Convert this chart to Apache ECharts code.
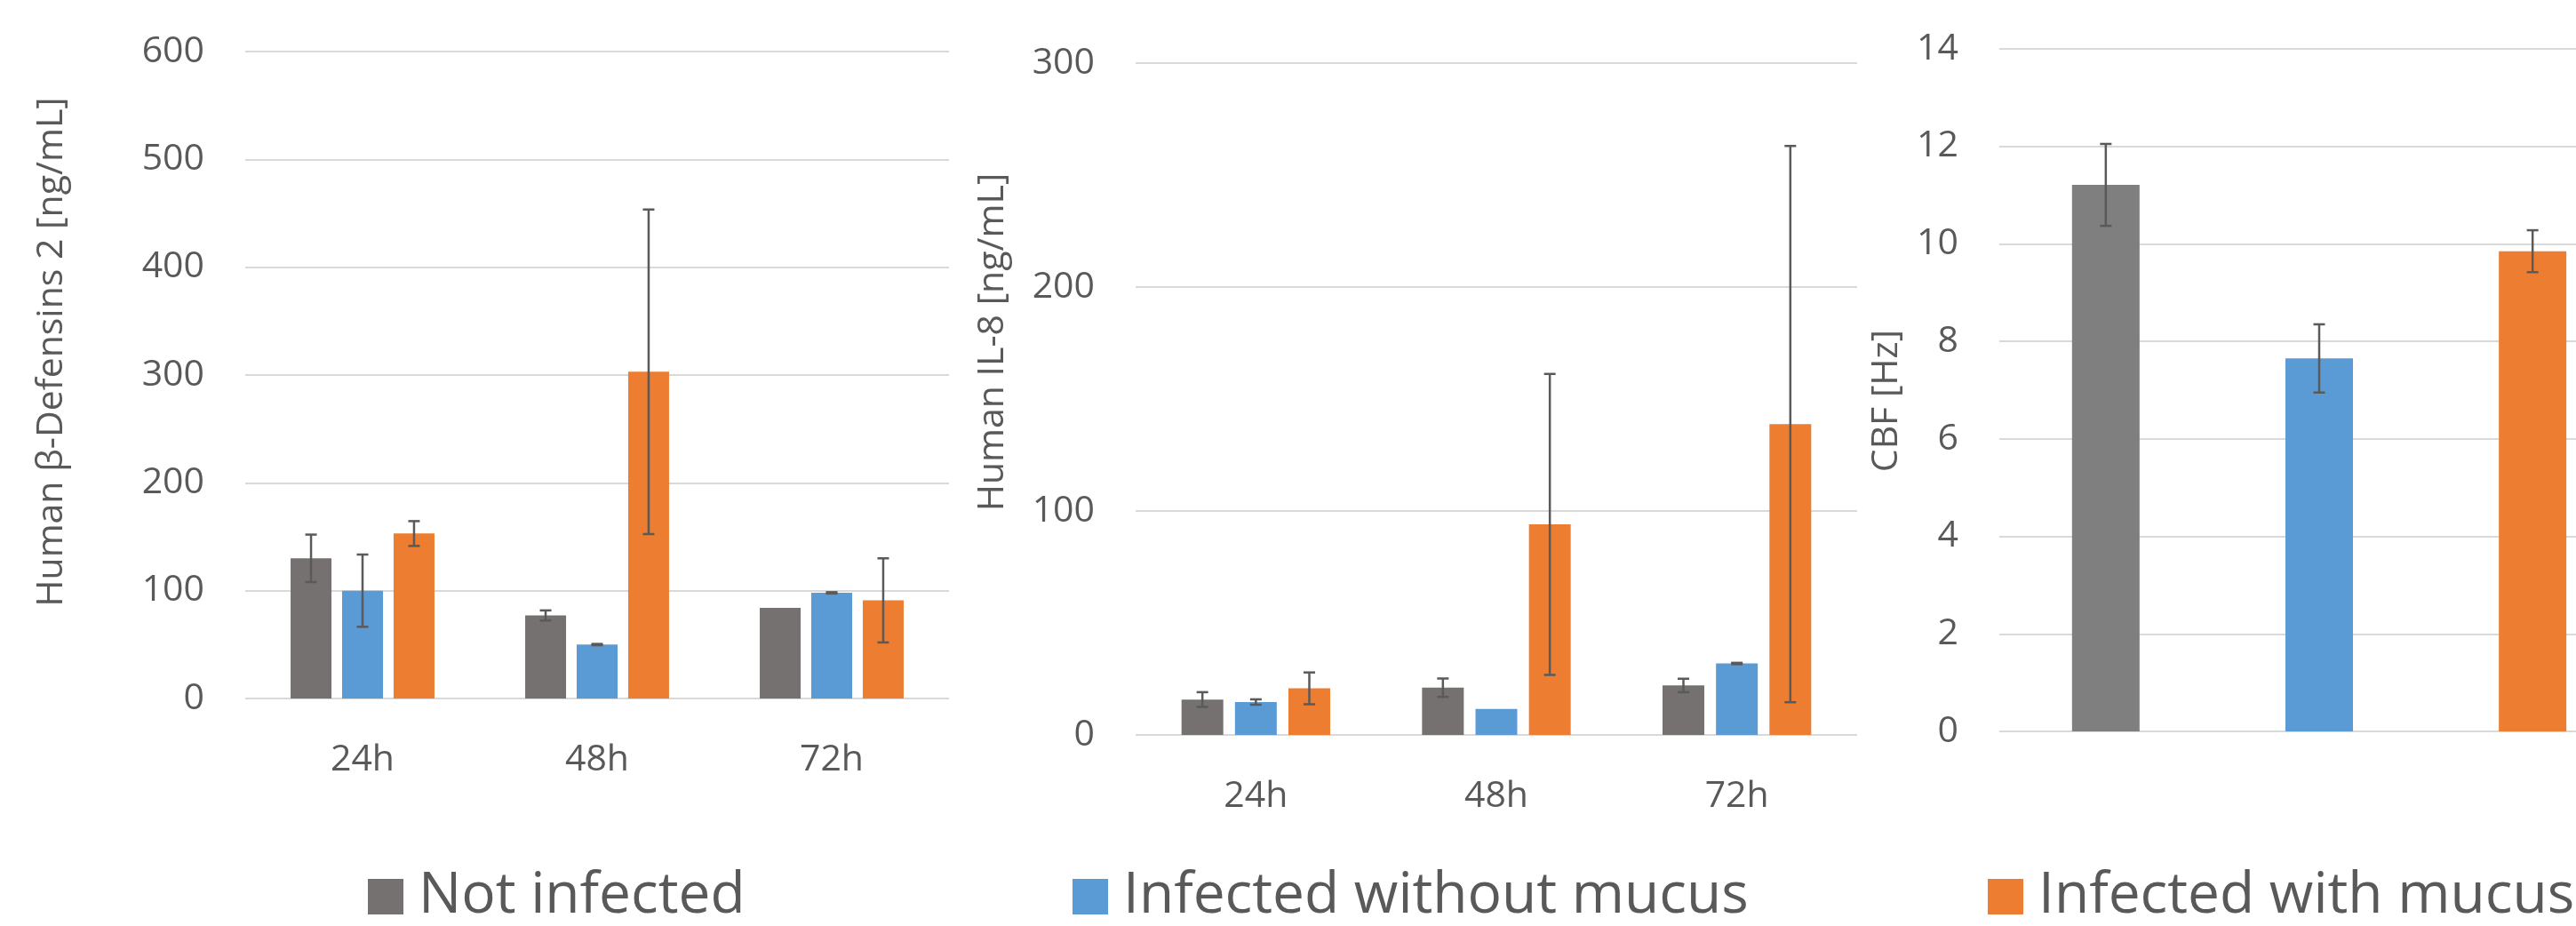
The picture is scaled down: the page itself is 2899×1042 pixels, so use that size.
<!DOCTYPE html>
<html>
<head>
<meta charset="utf-8">
<title>hBD-2, IL-8 and CBF</title>
<script src="https://cdn.jsdelivr.net/npm/echarts@6/dist/echarts.min.js"></script>
<style>
  html, body { margin: 0; padding: 0; background: #ffffff; }
  #chart { width: 2899px; height: 1042px; }
</style>
</head>
<body>
<div id="chart"></div>
<script>
// ---- data ----
const timePoints = ['24h', '48h', '72h'];
const groupNames = ['Not infected', 'Infected without mucus', 'Infected with mucus'];

// Human β-Defensin 2 [ng/mL]: mean and SD per time point
const hbd2NotInfected = [130, 77, 84];
const hbd2NotInfectedSd = [22, 4.7, 0];
const hbd2NoMucus = [100, 50, 98];
const hbd2NoMucusSd = [33.5, 0.6, 0.6];
const hbd2Mucus = [153, 303, 91];
const hbd2MucusSd = [11.5, 150.5, 39];

// Human IL-8 [ng/mL]: mean and SD per time point
const il8NotInfected = [15.8, 21.1, 22.1];
const il8NotInfectedSd = [3.3, 4.1, 3.0];
const il8NoMucus = [14.7, 11.6, 31.9];
const il8NoMucusSd = [1.2, 0, 0.3];
const il8Mucus = [20.8, 94.0, 138.8];
const il8MucusSd = [7.1, 67.2, 124.2];

// Ciliary beat frequency [Hz]: mean and SD per group
const cbfMean = [11.21, 7.65, 9.85];
const cbfSd = [0.84, 0.7, 0.43];

// ---- styling ----
const FONT = 'Open Sans';
const TEXT = '#595959';
const GRID_LINE = '#d9d9d9';
const ERR_COLOR = '#5a5a5a';
const CAP = 13;
const COLORS = ['#767171', '#5b9bd5', '#ed7d31'];
const CBF_COLORS = ['#7f7f7f', '#5b9bd5', '#ed7d31'];

// bar width / gap ratio per panel (gap given as fraction of bar width)
const PANELS = [
  { barW: 46, gap: 0.26 },
  { barW: 47, gap: 0.28 },
  { barW: 76, gap: 2.16 }
];

function yAxis(idx, max, interval, name, nameGap, namePad) {
  return {
    type: 'value', gridIndex: idx, min: 0, max: max, interval: interval,
    name: name, nameLocation: 'middle', nameRotate: 90, nameGap: nameGap,
    nameTextStyle: { fontFamily: FONT, fontSize: 41, color: TEXT, padding: namePad },
    axisLine: { show: false }, axisTick: { show: false },
    axisLabel: { fontFamily: FONT, fontSize: 41, color: TEXT, margin: 46 },
    splitLine: { lineStyle: { color: GRID_LINE, width: 2 } }
  };
}

function xAxis(idx, data, showLabels) {
  return {
    type: 'category', gridIndex: idx, data: data,
    axisLine: { show: false }, axisTick: { show: false },
    axisLabel: { show: showLabels, fontFamily: FONT, fontSize: 41, color: TEXT, margin: 49 }
  };
}

function barSeries(idx, name, data, color) {
  const p = PANELS[idx];
  return {
    type: 'bar', name: name, xAxisIndex: idx, yAxisIndex: idx, data: data,
    barWidth: p.barW, barGap: (p.gap * 100) + '%',
    itemStyle: { color: color }, z: 2
  };
}

function errorSeries(idx, slot, means, sds) {
  const p = PANELS[idx];
  const step = p.barW * (1 + p.gap);
  return {
    type: 'custom', xAxisIndex: idx, yAxisIndex: idx, z: 5, silent: true,
    data: means.map((m, i) => [i, m - sds[i], m + sds[i], sds[i]]),
    encode: { x: 0, y: [1, 2] },
    renderItem: function (params, api) {
      if (api.value(3) === 0) return { type: 'group', children: [] };
      const hi = api.coord([api.value(0), api.value(2)]);
      const lo = api.coord([api.value(0), api.value(1)]);
      const x = hi[0] + (slot - 1) * step;
      const h = CAP / 2;
      const style = { stroke: ERR_COLOR, lineWidth: 2.5 };
      return {
        type: 'group',
        children: [
          { type: 'line', shape: { x1: x, y1: hi[1], x2: x, y2: lo[1] }, style: style },
          { type: 'line', shape: { x1: x - h, y1: hi[1], x2: x + h, y2: hi[1] }, style: style },
          { type: 'line', shape: { x1: x - h, y1: lo[1], x2: x + h, y2: lo[1] }, style: style }
        ]
      };
    }
  };
}

const legendCommon = {
  orient: 'horizontal', padding: 0, top: 977,
  itemWidth: 40, itemHeight: 40, icon: 'rect', selectedMode: false,
  textStyle: { fontFamily: FONT, fontSize: 64, color: TEXT, padding: [0, 0, 0, 12] }
};

const option = {
  backgroundColor: '#ffffff',
  animation: false,
  grid: [
    { left: 276, top: 58, width: 792, height: 728, outerBoundsMode: 'none' },
    { left: 1278, top: 71, width: 812, height: 756, outerBoundsMode: 'none' },
    { left: 2250, top: 55, width: 720, height: 768, outerBoundsMode: 'none' }
  ],
  xAxis: [
    xAxis(0, timePoints, true),
    xAxis(1, timePoints, true),
    xAxis(2, ['CBF'], false)
  ],
  yAxis: [
    yAxis(0, 600, 100, 'Human β-Defensins 2 [ng/mL]', 197, [0, 0, 0, 52]),
    yAxis(1, 300, 100, 'Human IL-8 [ng/mL]', 140, [0, 0, 0, 128]),
    yAxis(2, 14, 2, 'CBF [Hz]', 106, [0, 24, 0, 0])
  ],
  legend: [
    Object.assign({}, legendCommon, { data: [groupNames[0]], left: 414 }),
    Object.assign({}, legendCommon, { data: [groupNames[1]], left: 1207 }),
    Object.assign({}, legendCommon, { data: [groupNames[2]], left: 2237 })
  ],
  series: [
    barSeries(0, groupNames[0], hbd2NotInfected, COLORS[0]),
    barSeries(0, groupNames[1], hbd2NoMucus, COLORS[1]),
    barSeries(0, groupNames[2], hbd2Mucus, COLORS[2]),
    errorSeries(0, 0, hbd2NotInfected, hbd2NotInfectedSd),
    errorSeries(0, 1, hbd2NoMucus, hbd2NoMucusSd),
    errorSeries(0, 2, hbd2Mucus, hbd2MucusSd),

    barSeries(1, groupNames[0], il8NotInfected, COLORS[0]),
    barSeries(1, groupNames[1], il8NoMucus, COLORS[1]),
    barSeries(1, groupNames[2], il8Mucus, COLORS[2]),
    errorSeries(1, 0, il8NotInfected, il8NotInfectedSd),
    errorSeries(1, 1, il8NoMucus, il8NoMucusSd),
    errorSeries(1, 2, il8Mucus, il8MucusSd),

    barSeries(2, groupNames[0], [cbfMean[0]], CBF_COLORS[0]),
    barSeries(2, groupNames[1], [cbfMean[1]], CBF_COLORS[1]),
    barSeries(2, groupNames[2], [cbfMean[2]], CBF_COLORS[2]),
    errorSeries(2, 0, [cbfMean[0]], [cbfSd[0]]),
    errorSeries(2, 1, [cbfMean[1]], [cbfSd[1]]),
    errorSeries(2, 2, [cbfMean[2]], [cbfSd[2]])
  ]
};

const chart = echarts.init(document.getElementById('chart'), null, { renderer: 'canvas' });
chart.setOption(option);
</script>
</body>
</html>
